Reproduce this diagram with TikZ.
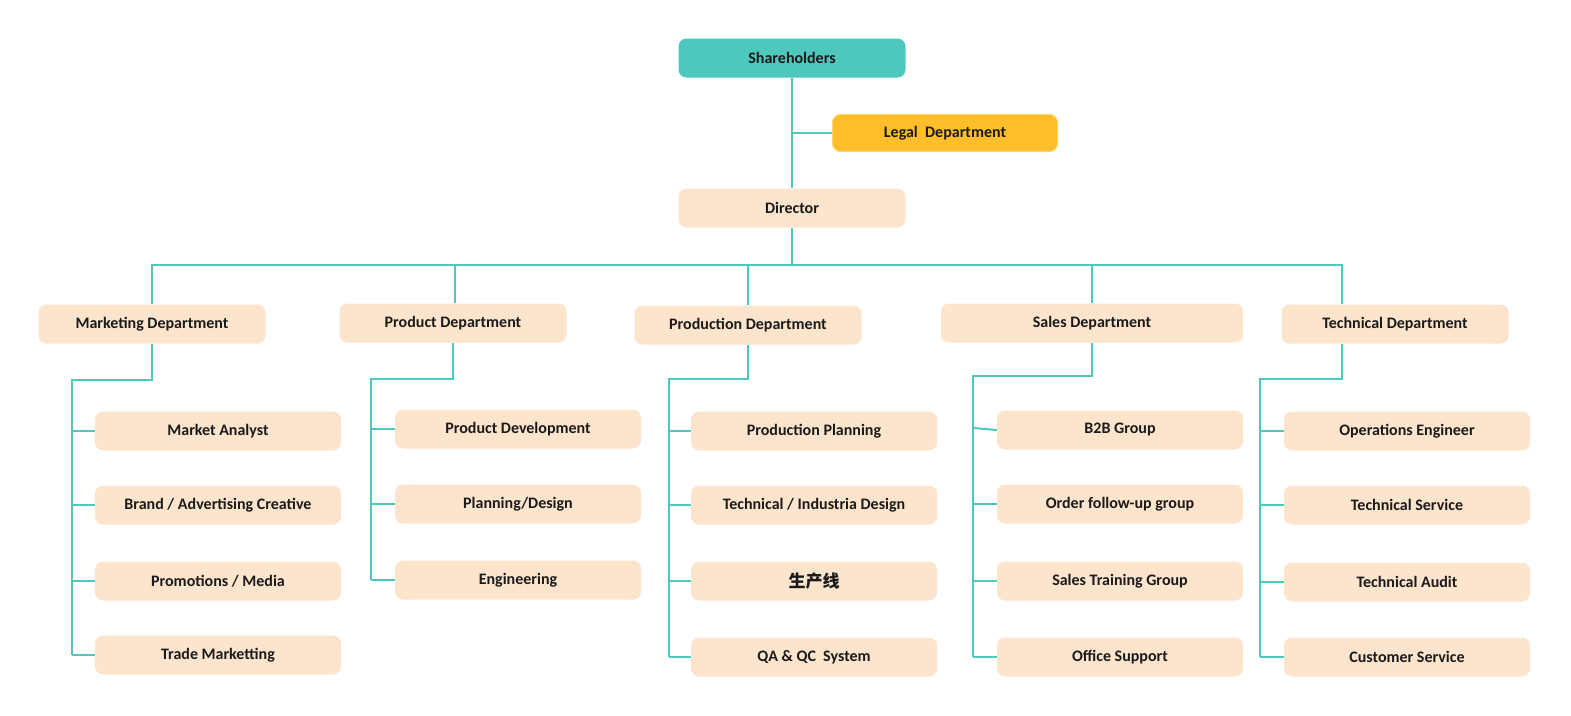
\documentclass[tikz,border=0pt]{standalone}
\usepackage{fontspec}
\setmainfont{Carlito}
\newfontfamily\cjk{Noto Sans CJK SC}
\usepackage{tikz}
\definecolor{teal}{HTML}{4EC7BC}
\definecolor{peach}{HTML}{FDE4CC}
\definecolor{gold}{HTML}{FFBE2A}
\definecolor{goldline}{HTML}{FFD670}
\definecolor{ink}{HTML}{1A1A1A}
\tikzset{
  box/.style={rounded corners=8pt, minimum width=227pt, minimum height=39pt, inner sep=0pt,
    fill=peach, text=ink, font=\fontsize{16}{18}\selectfont\bfseries},
  subbox/.style={box, minimum width=246pt},
  link/.style={draw=teal, line width=2pt}
}
\begin{document}
\begin{tikzpicture}[x=1pt, y=-1pt]
			%%%%% START %%%%%
			\useasboundingbox (0,0) rectangle (1571,715);

			\node[box, fill=teal] (share) at (792, 58) {Shareholders};
			\node[box, fill=gold, draw=goldline, line width=1pt, minimum width=225pt, minimum height=37pt] (legal) at (945, 133) {Legal\ \ Department};
			\node[box] (dir) at (792, 208) {Director};

			\node[box] (mkt) at (152, 324) {Marketing Department};
			\node[box] (prd) at (453, 323) {Product Department};
			\node[box] (pro) at (748, 325) {Production Department};
			\node[box, minimum width=302pt] (sal) at (1092, 323) {Sales Department};
			\node[box] (tec) at (1395, 324) {Technical Department};

			\node[subbox] (mkt1) at (218, 431) {Market Analyst};
			\node[subbox] (mkt2) at (218, 505) {Brand / Advertising Creative};
			\node[subbox] (mkt3) at (218, 581) {Promotions / Media};
			\node[subbox] (mkt4) at (218, 655) {Trade Marketting};

			\node[subbox] (prd1) at (518, 429) {Product Development};
			\node[subbox] (prd2) at (518, 504) {Planning/Design};
			\node[subbox] (prd3) at (518, 580) {Engineering};

			\node[subbox] (pro1) at (814, 431) {Production Planning};
			\node[subbox] (pro2) at (814, 505) {Technical / Industria Design};
			\node[subbox] (pro3) at (814, 581) {\cjk\fontsize{17}{19}\selectfont\bfseries 生产线};
			\node[subbox] (pro4) at (814, 657) {QA \& QC\ \ System};

			\node[subbox] (sal1) at (1120, 430) {B2B Group};
			\node[subbox] (sal2) at (1120, 504) {Order follow-up group};
			\node[subbox] (sal3) at (1120, 581) {Sales Training Group};
			\node[subbox] (sal4) at (1120, 657) {Office Support};

			\node[subbox] (tec1) at (1407, 431) {Operations Engineer};
			\node[subbox] (tec2) at (1407, 505) {Technical Service};
			\node[subbox] (tec3) at (1407, 582) {Technical Audit};
			\node[subbox] (tec4) at (1407, 657) {Customer Service};

			% top of the tree
			\draw[link] (share.south) -- (dir.north);
			\draw[link] (legal.west) -- (share.south |- legal.west);

			% bus to the departments
			\coordinate (busl) at (152, 265);
			\coordinate (busr) at (1342, 265);
			\draw[link] (dir.south) -- (dir.south |- busl);
			\draw[link] (mkt.north) -- (busl) -- (busr) -- (busr |- tec.north);
			\draw[link] (prd.north -| 455, 0) -- (busl -| 455, 0);
			\draw[link] (pro.north) -- (pro.north |- busl);
			\draw[link] (sal.north) -- (sal.north |- busl);

			% marketing
			\coordinate (mktsp) at (72, 380);
			\draw[link] (mkt.south) |- (mktsp) -- (mktsp |- mkt4.west);
			\draw[link] (mktsp |- mkt1.west) -- (mkt1.west);
			\draw[link] (mktsp |- mkt2.west) -- (mkt2.west);
			\draw[link] (mktsp |- mkt3.west) -- (mkt3.west);
			\draw[link] (mktsp |- mkt4.west) -- (mkt4.west);

			% product
			\coordinate (prdsp) at (371, 379);
			\draw[link] (prd.south) |- (prdsp) -- (prdsp |- prd3.west);
			\draw[link] (prdsp |- prd1.west) -- (prd1.west);
			\draw[link] (prdsp |- prd2.west) -- (prd2.west);
			\draw[link] (prdsp |- prd3.west) -- (prd3.west);

			% production
			\coordinate (prosp) at (669, 379);
			\draw[link] (pro.south) |- (prosp) -- (prosp |- pro4.west);
			\draw[link] (prosp |- pro1.west) -- (pro1.west);
			\draw[link] (prosp |- pro2.west) -- (pro2.west);
			\draw[link] (prosp |- pro3.west) -- (pro3.west);
			\draw[link] (prosp |- pro4.west) -- (pro4.west);

			% sales
			\coordinate (salsp) at (973, 376);
			\draw[link] (sal.south) |- (salsp) -- (salsp |- sal4.west);
			\draw[link] (973, 428) -- (sal1.west);
			\draw[link] (salsp |- sal2.west) -- (sal2.west);
			\draw[link] (salsp |- sal3.west) -- (sal3.west);
			\draw[link] (salsp |- sal4.west) -- (sal4.west);

			% technical
			\coordinate (tecsp) at (1260, 379);
			\draw[link] (tec.south -| busr) |- (tecsp) -- (tecsp |- tec4.west);
			\draw[link] (tecsp |- tec1.west) -- (tec1.west);
			\draw[link] (tecsp |- tec2.west) -- (tec2.west);
			\draw[link] (tecsp |- tec3.west) -- (tec3.west);
			\draw[link] (tecsp |- tec4.west) -- (tec4.west);
			%%%%% END %%%%%
\end{tikzpicture}
\end{document}
